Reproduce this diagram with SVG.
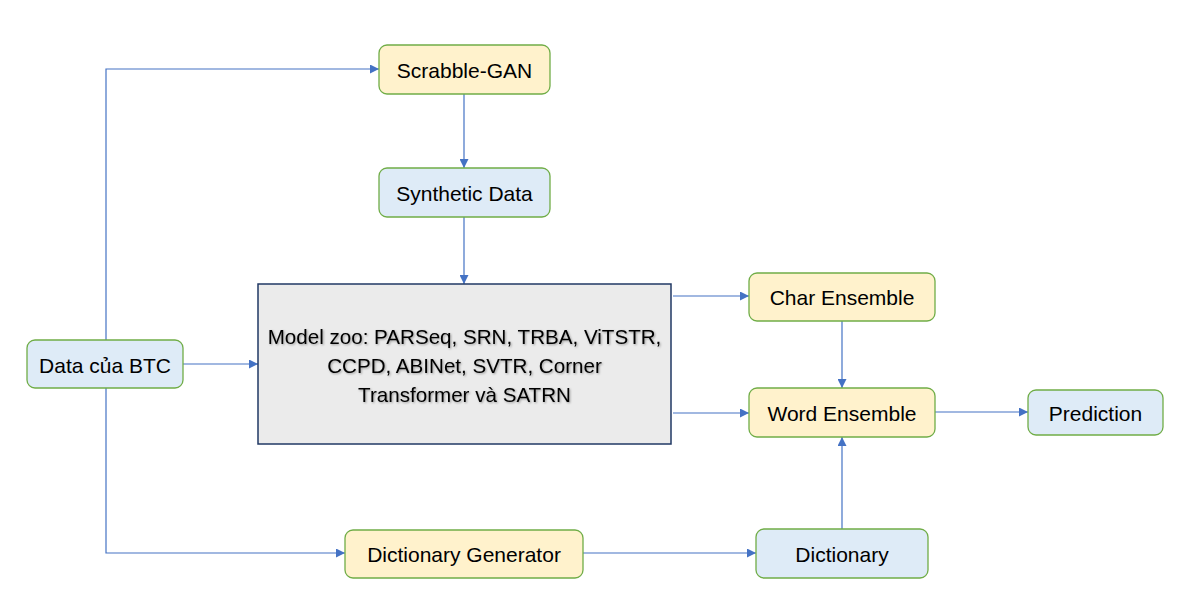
<svg xmlns="http://www.w3.org/2000/svg" width="1183" height="615" viewBox="0 0 1183 615">
<style>
.node{stroke:#70AD47;stroke-width:1.3}
.y{fill:#FFF2CC}
.b{fill:#DEEBF7}
.t{font-family:"Liberation Sans",Arial,sans-serif;font-size:21px;fill:#000;text-anchor:middle;dominant-baseline:central}
.m{font-size:20.6px}
.c{fill:none;stroke:#4472C4;stroke-width:1.2;marker-end:url(#ah)}
</style>
<defs>
<marker id="ah" viewBox="0 0 10 10" refX="10" refY="5" markerWidth="9" markerHeight="9" markerUnits="userSpaceOnUse" orient="auto">
<path d="M0,0 L10,5 L0,10 z" fill="#4472C4"/>
</marker>
<filter id="sh" x="-10%" y="-10%" width="120%" height="130%">
<feDropShadow dx="1" dy="1" stdDeviation="0.8" flood-color="#000" flood-opacity="0.35"/>
</filter>
</defs>
<rect width="1183" height="615" fill="#fff"/>
<g id="connectors">
<path class="c" d="M106,340 V69 H379"/>
<path class="c" d="M106,388 V553 H345"/>
<path class="c" d="M183,364 H258"/>
<path class="c" d="M464,94 V168"/>
<path class="c" d="M464,217 V284"/>
<path class="c" d="M673,296 H749"/>
<path class="c" d="M673,413 H749"/>
<path class="c" d="M842,321 V388"/>
<path class="c" d="M935,412 H1028"/>
<path class="c" d="M842,529 V437"/>
<path class="c" d="M583,553 H756"/>
</g>
<g id="scrabble-gan"><rect class="node y" x="379" y="45" width="171" height="49" rx="8"/><text class="t" x="464.5" y="70">Scrabble-GAN</text></g>
<g id="synthetic-data"><rect class="node b" x="379" y="168" width="171" height="49" rx="8"/><text class="t" x="464.5" y="193">Synthetic Data</text></g>
<g id="model-zoo"><rect x="258" y="284" width="413" height="160" fill="#EBEBEB" stroke="#203864" stroke-width="1.5"/>
<text class="t m" x="464.5" filter="url(#sh)"><tspan x="464.5" y="336">Model zoo: PARSeq, SRN, TRBA, ViTSTR,</tspan><tspan x="464.5" y="365">CCPD, ABINet, SVTR, Corner</tspan><tspan x="464.5" y="394">Transformer và SATRN</tspan></text></g>
<g id="data-btc"><rect class="node b" x="27" y="340" width="156" height="48" rx="8"/><text class="t" x="105" y="365">Data của BTC</text></g>
<g id="char-ensemble"><rect class="node y" x="749" y="273" width="186" height="48" rx="8"/><text class="t" x="842" y="297">Char Ensemble</text></g>
<g id="word-ensemble"><rect class="node y" x="749" y="388" width="186" height="49" rx="8"/><text class="t" x="842" y="413">Word Ensemble</text></g>
<g id="prediction"><rect class="node b" x="1028" y="390" width="135" height="45" rx="8"/><text class="t" x="1095.5" y="413">Prediction</text></g>
<g id="dictionary-generator"><rect class="node y" x="345" y="530" width="238" height="48" rx="8"/><text class="t" x="464" y="554">Dictionary Generator</text></g>
<g id="dictionary"><rect class="node b" x="756" y="529" width="172" height="49" rx="8"/><text class="t" x="842" y="554">Dictionary</text></g>
</svg>
